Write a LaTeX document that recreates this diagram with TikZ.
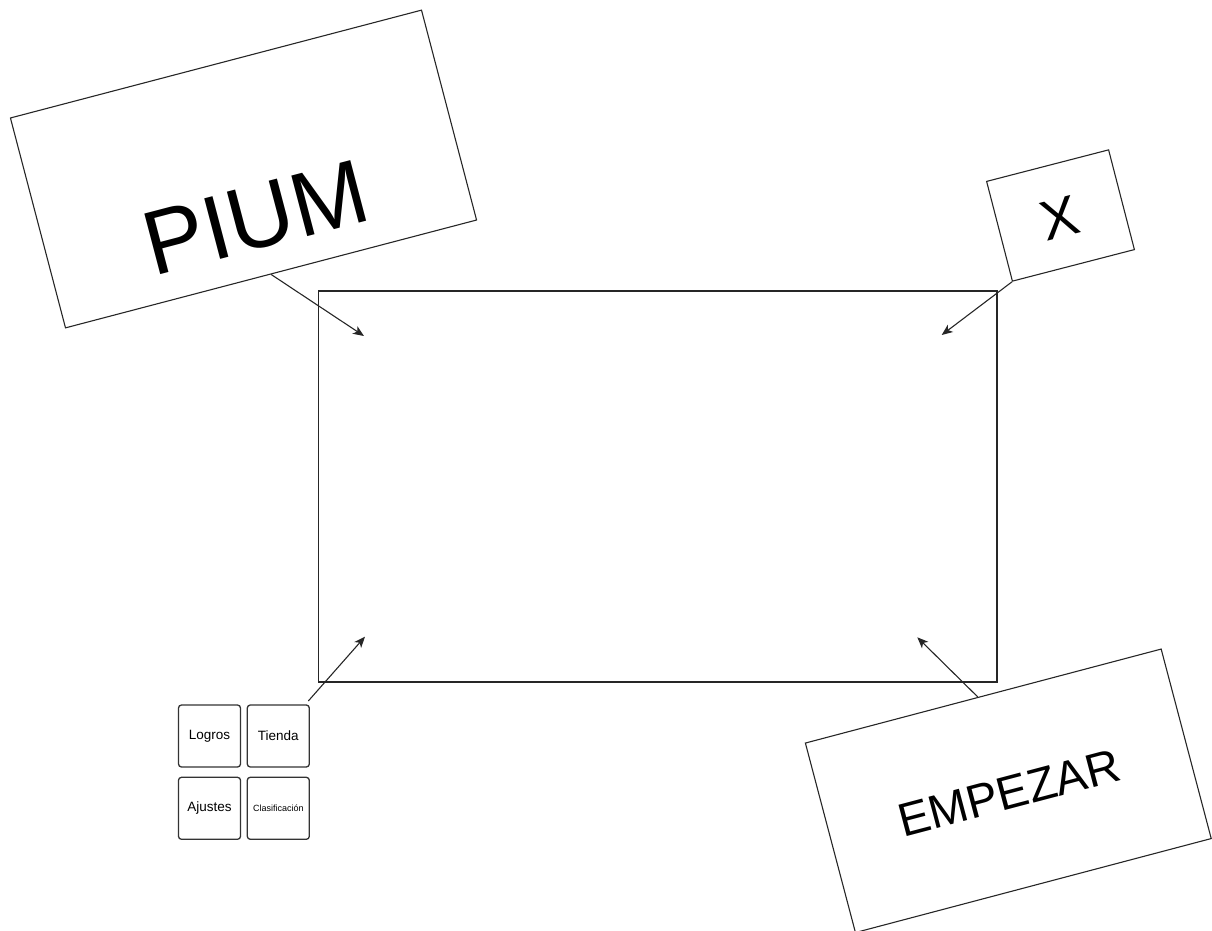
\documentclass[tikz,border=0pt]{standalone}
\usepackage{fontspec}
\setmainfont{Liberation Sans}
\usetikzlibrary{arrows.meta,calc}
\tikzset{
  frame/.style={draw=black!85, line width=1.1pt, inner sep=0pt, fill=none},
  tile/.style={draw=black!80, line width=1.3pt, rounded corners=3pt, minimum width=62pt, minimum height=62pt, inner sep=0pt},
  link/.style={draw=black!85, line width=1.1pt, -{Stealth[length=11pt,width=9pt,inset=3pt]}},
  label/.style={inner sep=0pt, text=black}
}
\begin{document}
\begin{tikzpicture}[x=1pt,y=-1pt]
\useasboundingbox (0,0) rectangle (1212,931);
% main screen
\node[frame, minimum width=678.5pt, minimum height=391pt] (screen) at (657.75,486.5) {};
% PIUM title box
\node[frame, rotate=14.7, minimum width=425pt, minimum height=217pt] (pium) at (243.5,169) {};
\node[label, rotate=14.7, font=\fontsize{91}{91}\selectfont] (piumtext) at (256,218) {PIUM};
% X box
\node[frame, rotate=14.5, minimum width=126pt, minimum height=103pt] (xbox) at (1060.5,215.5) {};
\node[label, rotate=14.5, font=\fontsize{56}{56}\selectfont] (xtext) at (1060,218) {X};
% EMPEZAR box
\node[frame, rotate=14.8, minimum width=368pt, minimum height=196pt] (emp) at (1008.3,790.8) {};
\node[label, rotate=14.8, font=\fontsize{47}{47}\selectfont] (emptext) at (1009,793) {EMPEZAR};
% menu tiles
\node[tile, font=\fontsize{13.5}{13.5}\selectfont] (logros) at (209.5,736) {Logros};
\node[tile, font=\fontsize{13.5}{13.5}\selectfont] (tienda) at (278.3,736) {Tienda};
\node[tile, font=\fontsize{13.5}{13.5}\selectfont] (ajustes) at (209.5,808.3) {Ajustes};
\node[tile, font=\fontsize{9}{9}\selectfont] (clasif) at (278.3,808.3) {Clasificación};
% arrow end points inside the screen
\coordinate (tl) at (364,336);
\coordinate (tr) at (941.7,335);
\coordinate (bl) at (365,636.7);
\coordinate (br) at (917.3,637.3);
\coordinate (tilestart) at (308.3,701);
\coordinate (empstart) at ($(emp.north west)!0.485!(emp.north east)$);
% connectors
\draw[link] (pium.south) -- (tl);
\draw[link] (xbox.south west) -- (tr);
\draw[link] (tilestart) -- (bl);
\draw[link] (empstart) -- (br);
\end{tikzpicture}
\end{document}
